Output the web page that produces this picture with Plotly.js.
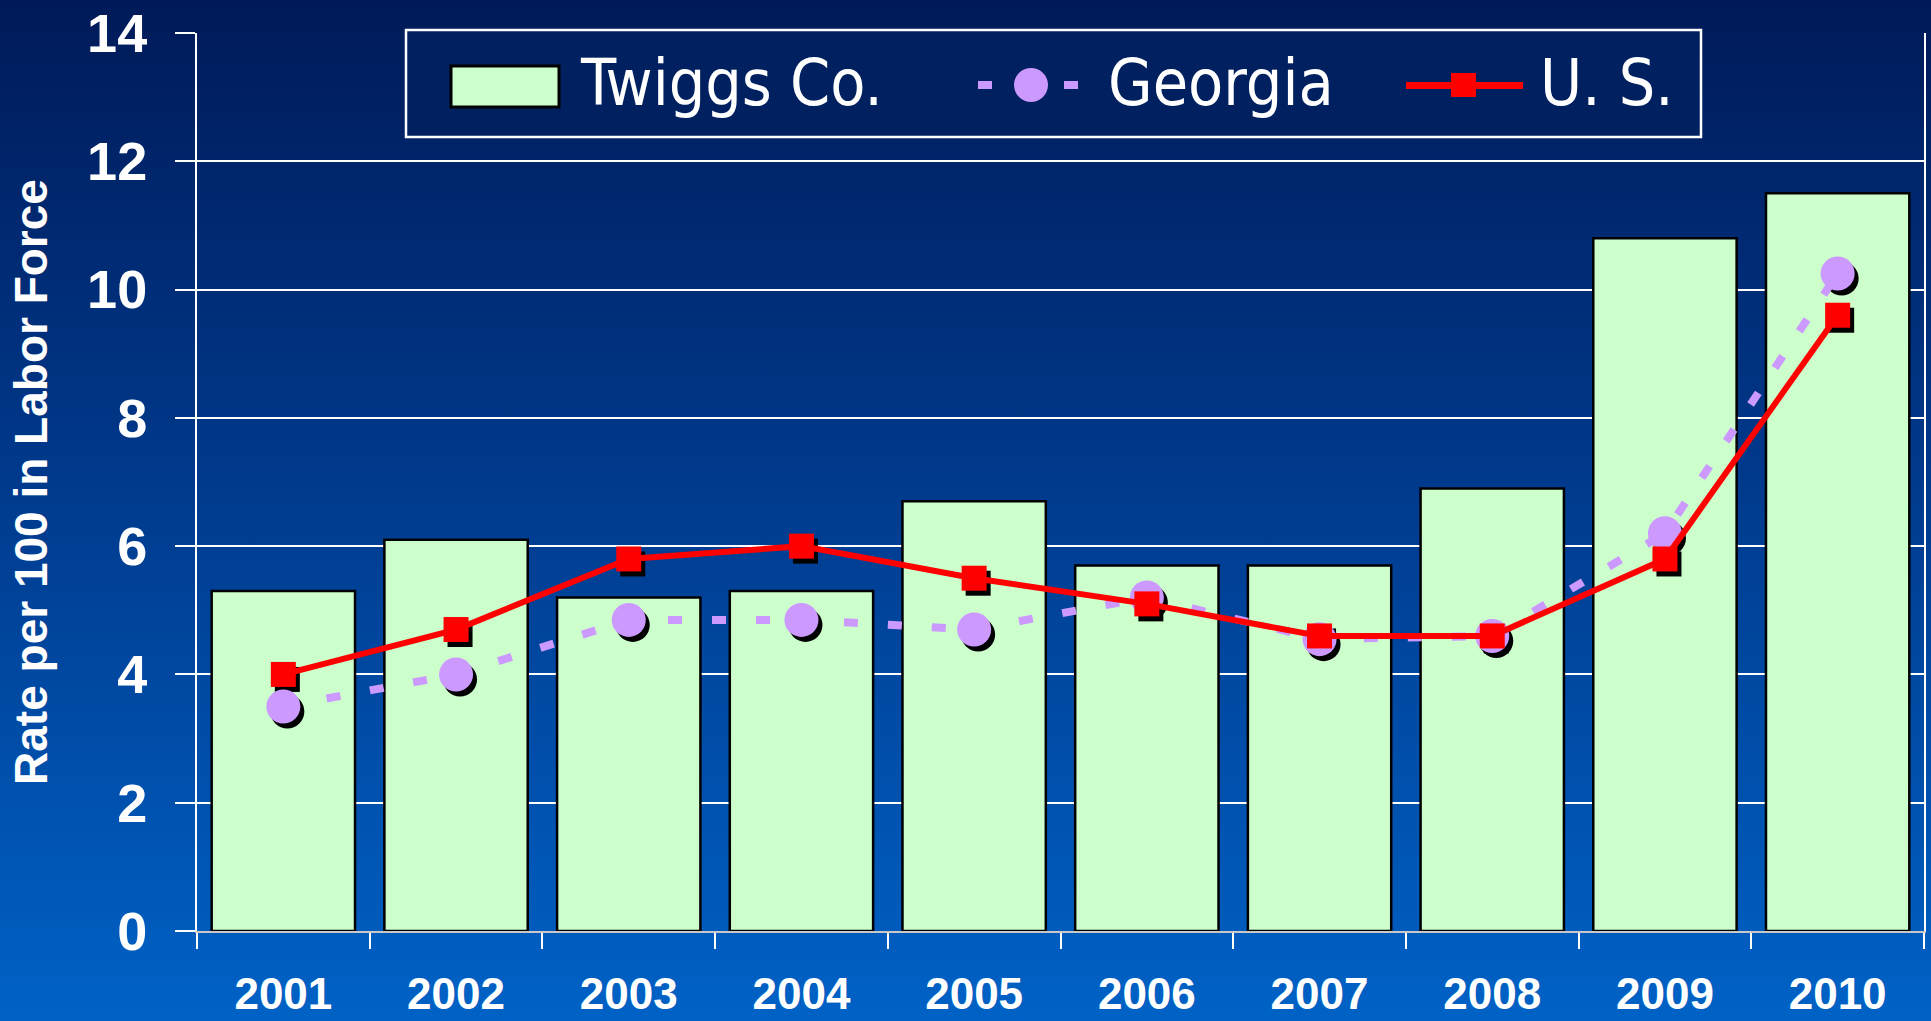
<!DOCTYPE html>
<html>
<head>
<meta charset="utf-8">
<script src="https://cdn.plot.ly/plotly-3.0.1.min.js"></script>
<style>
  html, body { margin: 0; padding: 0; }
  body { width: 1931px; height: 1021px; background: linear-gradient(to bottom, #001a58 0%, #00388a 45%, #0062c6 100%); }
  #chart { width: 1931px; height: 1021px; }
</style>
</head>
<body>
<div id="chart"></div>
<script>
// ---- data ----
const years = ['2001','2002','2003','2004','2005','2006','2007','2008','2009','2010'];
const twiggs = [5.3, 6.1, 5.2, 5.3, 6.7, 5.7, 5.7, 6.9, 10.8, 11.5];
const georgia = [3.5, 4.0, 4.85, 4.85, 4.7, 5.2, 4.55, 4.6, 6.2, 10.25];
const us = [4.0, 4.7, 5.8, 6.0, 5.5, 5.1, 4.6, 4.6, 5.8, 9.6];
const seriesNames = ['Twiggs Co.', 'Georgia', 'U. S.'];
const yTitle = 'Rate per 100 in Labor Force';

// ---- layout geometry ----
const W = 1931, H = 1021;
const mL = 197, mR = 7, mT = 33, mB = 90;
const plotW = W - mL - mR, plotH = H - mT - mB;
const P = px => (px - mL) / plotW;
const Q = py => (H - mB - py) / plotH;

// shadow offset (pixels) expressed as axis range shift
const yMax = 14;
const dx = 4 / (plotW / years.length);
const dy = 5 / (plotH / yMax);

const GREEN = '#ccffcc', LAV = '#cc99ff', RED = '#ff0000';
const boldFont = 'Liberation Sans, Arial, sans-serif';
const narrowFont = 'Liberation Sans Narrow, DejaVu Sans Condensed, DejaVu Sans, sans-serif';

const traces = [
  { type: 'bar', x: years, y: twiggs, name: seriesNames[0], xaxis: 'x', yaxis: 'y',
    marker: { color: GREEN, line: { color: '#000000', width: 2.5 } } },
  // shadows
  { type: 'scatter', mode: 'markers', x: years, y: georgia, xaxis: 'x2', yaxis: 'y2', hoverinfo: 'skip',
    marker: { symbol: 'circle', size: 34, color: '#000000' } },
  { type: 'scatter', mode: 'markers', x: years, y: us, xaxis: 'x2', yaxis: 'y2', hoverinfo: 'skip',
    marker: { symbol: 'square', size: 25, color: '#000000' } },
  // lines + markers
  { type: 'scatter', mode: 'lines', x: years, y: georgia, name: seriesNames[1], xaxis: 'x3', yaxis: 'y3',
    line: { color: LAV, width: 8, dash: '14px,30px' } },
  { type: 'scatter', mode: 'markers', x: years, y: georgia, name: seriesNames[1], xaxis: 'x3', yaxis: 'y3',
    marker: { symbol: 'circle', size: 34, color: LAV } },
  { type: 'scatter', mode: 'lines+markers', x: years, y: us, name: seriesNames[2], xaxis: 'x3', yaxis: 'y3',
    line: { color: RED, width: 6 },
    marker: { symbol: 'square', size: 25, color: RED } }
];

const hidden = (extra) => Object.assign({ visible: false, fixedrange: true }, extra);

const shapes = [
  // legend box
  { type: 'rect', xref: 'paper', yref: 'paper', x0: P(406), x1: P(1701), y0: Q(30), y1: Q(137),
    fillcolor: '#00205f', line: { color: '#ffffff', width: 2.5 }, layer: 'above' },
  // Twiggs swatch
  { type: 'rect', xref: 'paper', yref: 'paper', x0: P(451), x1: P(559), y0: Q(66), y1: Q(107),
    fillcolor: GREEN, line: { color: '#000000', width: 3 }, layer: 'above' },
  // Georgia dashes and circle
  { type: 'rect', xref: 'paper', yref: 'paper', x0: P(978), x1: P(992), y0: Q(81), y1: Q(89),
    fillcolor: LAV, line: { width: 0 }, layer: 'above' },
  { type: 'rect', xref: 'paper', yref: 'paper', x0: P(1064), x1: P(1078), y0: Q(81), y1: Q(89),
    fillcolor: LAV, line: { width: 0 }, layer: 'above' },
  { type: 'circle', xref: 'paper', yref: 'paper', x0: P(1014), x1: P(1048), y0: Q(68), y1: Q(102),
    fillcolor: LAV, line: { width: 0 }, layer: 'above' },
  // US line and square
  { type: 'line', xref: 'paper', yref: 'paper', x0: P(1406), x1: P(1523), y0: Q(85.5), y1: Q(85.5),
    line: { color: RED, width: 7 }, layer: 'above' },
  { type: 'rect', xref: 'paper', yref: 'paper', x0: P(1451), x1: P(1476), y0: Q(73), y1: Q(97),
    fillcolor: RED, line: { width: 0 }, layer: 'above' }
];

const legendText = (txt, xpx) => ({
  text: txt, xref: 'paper', yref: 'paper', x: P(xpx), y: Q(83), xanchor: 'left', yanchor: 'middle',
  showarrow: false, font: { family: narrowFont, size: 64, color: '#ffffff' }
});
const annotations = [
  legendText(seriesNames[0], 578),
  legendText(seriesNames[1], 1106),
  legendText(seriesNames[2], 1538)
];

const layout = {
  width: W, height: H,
  margin: { l: mL, r: mR, t: mT, b: mB },
  paper_bgcolor: 'rgba(0,0,0,0)',
  plot_bgcolor: 'rgba(0,0,0,0)',
  showlegend: false,
  bargap: 0.17,
  xaxis: {
    type: 'category', categoryarray: years, range: [-0.5, years.length - 0.5],
    showline: true, linecolor: '#c8c8c8', linewidth: 2,
    ticks: 'outside', tickson: 'boundaries', ticklen: 16, tickwidth: 2, tickcolor: '#ffffff',
    ticklabelstandoff: 23,
    showgrid: false, zeroline: false, fixedrange: true,
    tickfont: { family: boldFont, size: 44, color: '#ffffff', weight: 700 }
  },
  yaxis: {
    range: [0, yMax], dtick: 2, tick0: 0,
    showline: true, linecolor: '#ffffff', linewidth: 2, mirror: true,
    ticks: 'outside', ticklen: 20, tickwidth: 2, tickcolor: '#ffffff',
    ticklabelstandoff: 17,
    showgrid: true, gridcolor: '#ffffff', gridwidth: 2, zeroline: false, fixedrange: true,
    tickfont: { family: boldFont, size: 54, color: '#ffffff', weight: 700 },
    title: { text: yTitle, standoff: 25, font: { family: boldFont, size: 46, color: '#ffffff', weight: 700 } }
  },
  xaxis2: hidden({ type: 'category', categoryarray: years, overlaying: 'x', range: [-0.5 - dx, years.length - 0.5 - dx] }),
  yaxis2: hidden({ overlaying: 'y', range: [dy, yMax + dy] }),
  xaxis3: hidden({ type: 'category', categoryarray: years, overlaying: 'x', range: [-0.5, years.length - 0.5] }),
  yaxis3: hidden({ overlaying: 'y', range: [0, yMax] }),
  shapes: shapes,
  annotations: annotations
};

Plotly.newPlot('chart', traces, layout, { displayModeBar: false, staticPlot: true });
</script>
</body>
</html>
